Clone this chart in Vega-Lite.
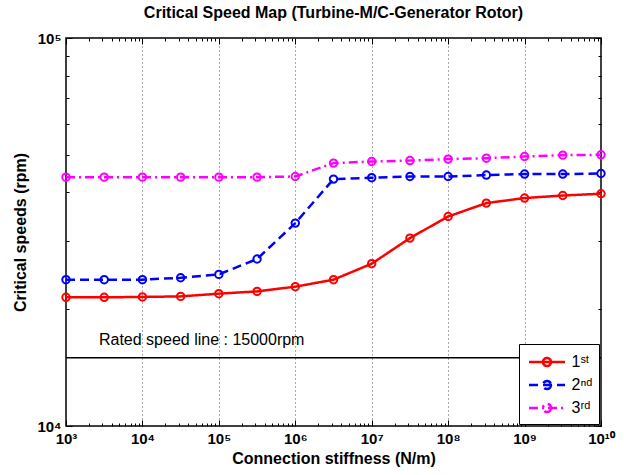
{
  "$schema": "https://vega.github.io/schema/vega-lite/v6.json",
  "width": 535,
  "height": 388,
  "autosize": "none",
  "padding": {"left": 66, "top": 38, "right": 23, "bottom": 49},
  "config": {
    "font": "Liberation Sans",
    "view": {"stroke": "black", "strokeWidth": 1.5},
    "axis": {"domain": false, "ticks": true, "tickColor": "black", "tickWidth": 1, "labelColor": "black", "titleColor": "black"}
  },
  "title": {"text": "Critical Speed Map (Turbine-M/C-Generator Rotor)", "fontSize": 16, "fontWeight": "bold", "font": "Liberation Sans", "offset": 10, "color": "black"},
  "datasets": {
    "speeds": [
      {"k": 1000, "rpm": 21460, "mode": "1st"},
      {"k": 3162, "rpm": 21460, "mode": "1st"},
      {"k": 10000, "rpm": 21510, "mode": "1st"},
      {"k": 31623, "rpm": 21580, "mode": "1st"},
      {"k": 100000, "rpm": 21930, "mode": "1st"},
      {"k": 316228, "rpm": 22230, "mode": "1st"},
      {"k": 1000000, "rpm": 22860, "mode": "1st"},
      {"k": 3162278, "rpm": 23830, "mode": "1st"},
      {"k": 10000000, "rpm": 26200, "mode": "1st"},
      {"k": 31622777, "rpm": 30500, "mode": "1st"},
      {"k": 100000000, "rpm": 34670, "mode": "1st"},
      {"k": 316227766, "rpm": 37540, "mode": "1st"},
      {"k": 1000000000, "rpm": 38680, "mode": "1st"},
      {"k": 3162277660, "rpm": 39270, "mode": "1st"},
      {"k": 10000000000, "rpm": 39680, "mode": "1st"},
      {"k": 1000, "rpm": 23830, "mode": "2nd"},
      {"k": 3162, "rpm": 23830, "mode": "2nd"},
      {"k": 10000, "rpm": 23830, "mode": "2nd"},
      {"k": 31623, "rpm": 24100, "mode": "2nd"},
      {"k": 100000, "rpm": 24590, "mode": "2nd"},
      {"k": 316228, "rpm": 26940, "mode": "2nd"},
      {"k": 1000000, "rpm": 33340, "mode": "2nd"},
      {"k": 3162278, "rpm": 43280, "mode": "2nd"},
      {"k": 10000000, "rpm": 43650, "mode": "2nd"},
      {"k": 31622777, "rpm": 43950, "mode": "2nd"},
      {"k": 100000000, "rpm": 43950, "mode": "2nd"},
      {"k": 316227766, "rpm": 44330, "mode": "2nd"},
      {"k": 1000000000, "rpm": 44600, "mode": "2nd"},
      {"k": 3162277660, "rpm": 44600, "mode": "2nd"},
      {"k": 10000000000, "rpm": 44750, "mode": "2nd"},
      {"k": 1000, "rpm": 43790, "mode": "3rd"},
      {"k": 3162, "rpm": 43790, "mode": "3rd"},
      {"k": 10000, "rpm": 43790, "mode": "3rd"},
      {"k": 31623, "rpm": 43790, "mode": "3rd"},
      {"k": 100000, "rpm": 43790, "mode": "3rd"},
      {"k": 316228, "rpm": 43790, "mode": "3rd"},
      {"k": 1000000, "rpm": 43950, "mode": "3rd"},
      {"k": 3162278, "rpm": 47590, "mode": "3rd"},
      {"k": 10000000, "rpm": 48040, "mode": "3rd"},
      {"k": 31622777, "rpm": 48320, "mode": "3rd"},
      {"k": 100000000, "rpm": 48740, "mode": "3rd"},
      {"k": 316227766, "rpm": 49010, "mode": "3rd"},
      {"k": 1000000000, "rpm": 49500, "mode": "3rd"},
      {"k": 3162277660, "rpm": 49900, "mode": "3rd"},
      {"k": 10000000000, "rpm": 50000, "mode": "3rd"}
    ],
    "rated": [{"rpm": 15000}],
    "note": [{"k": 2700, "rpm": 16700, "label": "Rated speed line : 15000rpm"}]
  },
  "resolve": {"axis": {"x": "independent", "y": "independent"}},
  "layer": [
    {
      "data": {"name": "speeds"},
      "mark": {"type": "line", "strokeWidth": 2.5, "clip": true},
      "encoding": {
        "x": {
          "field": "k", "type": "quantitative",
          "scale": {"type": "log", "domain": [1000, 10000000000], "nice": false},
          "axis": {
            "orient": "bottom", "offset": -6,
            "title": "Connection stiffness (N/m)",
            "titleFontSize": 16, "titleFontWeight": "bold", "titlePadding": 4,
            "values": [1000, 10000, 100000, 1000000, 10000000, 100000000, 1000000000, 10000000000],
            "labelExpr": "round(log(datum.value)/LN10) == 10 ? '10¹⁰' : '10' + ['⁰','¹','²','³','⁴','⁵','⁶','⁷','⁸','⁹'][round(log(datum.value)/LN10)]",
            "labelFontSize": 15, "labelFontWeight": "bold", "labelPadding": 5,
            "labelFlush": false, "labelOverlap": false,
            "tickSize": 6,
            "grid": true, "gridColor": "#555555", "gridDash": [1, 3], "gridWidth": 1,
            "gridOpacity": {"condition": {"test": "datum.value > 1000 && datum.value < 10000000000", "value": 1}, "value": 0}
          }
        },
        "y": {
          "field": "rpm", "type": "quantitative",
          "scale": {"type": "log", "domain": [10000, 100000], "nice": false},
          "axis": {
            "orient": "left", "offset": -6,
            "title": "Critical speeds (rpm)",
            "titleFontSize": 16, "titleFontWeight": "bold", "titlePadding": 8,
            "values": [10000, 100000],
            "labelExpr": "datum.value == 10000 ? '10⁴' : '10⁵'",
            "labelFontSize": 15, "labelFontWeight": "bold", "labelPadding": 5,
            "labelFlush": false, "labelOverlap": false,
            "tickSize": 6,
            "grid": false
          }
        },
        "color": {
          "field": "mode", "type": "nominal",
          "scale": {"domain": ["1st", "2nd", "3rd"], "range": ["#ff0000", "#0000ff", "#ff00ff"]},
          "legend": {
            "orient": "bottom-right", "title": null,
            "labelExpr": "datum.label == '1st' ? '1ˢᵗ' : (datum.label == '2nd' ? '2ⁿᵈ' : '3ʳᵈ')",
            "strokeColor": "black", "fillColor": "white", "padding": 6.5, "offset": 2,
            "symbolType": "M -1.8 0 L 1.8 0 M 0.4 0 A 0.4 0.4 0 1 1 -0.4 0 A 0.4 0.4 0 1 1 0.4 0",
            "symbolSize": 400, "symbolStrokeWidth": 2.5, "symbolOffset": 10,
            "labelOffset": 13, "labelFontSize": 16, "labelColor": "black",
            "labelLimit": 200, "rowPadding": 2
          }
        },
        "strokeDash": {
          "field": "mode", "type": "nominal",
          "scale": {"domain": ["1st", "2nd", "3rd"], "range": [[1, 0], [9, 5], [9, 4, 2, 4]]},
          "legend": null
        }
      }
    },
    {
      "data": {"name": "speeds"},
      "mark": {"type": "point", "shape": "circle", "filled": false, "size": 55, "strokeWidth": 2, "opacity": 1},
      "encoding": {
        "x": {"field": "k", "type": "quantitative", "axis": null},
        "y": {"field": "rpm", "type": "quantitative", "axis": null},
        "color": {"field": "mode", "type": "nominal"}
      }
    },
    {
      "data": {"name": "rated"},
      "mark": {"type": "rule", "color": "black", "strokeWidth": 1.5},
      "encoding": {
        "y": {"field": "rpm", "type": "quantitative", "axis": null}
      }
    },
    {
      "data": {"name": "note"},
      "mark": {"type": "text", "align": "left", "baseline": "middle", "fontSize": 16, "font": "Liberation Sans", "color": "black"},
      "encoding": {
        "x": {"field": "k", "type": "quantitative", "axis": null},
        "y": {"field": "rpm", "type": "quantitative", "axis": null},
        "text": {"field": "label"}
      }
    },
    {
      "data": {"name": "speeds"},
      "mark": {"type": "point", "opacity": 0},
      "encoding": {
        "x": {
          "field": "k", "type": "quantitative",
          "axis": {
            "orient": "bottom", "offset": -3, "title": null, "labels": false, "grid": false,
            "values": [2000,3000,4000,5000,6000,7000,8000,9000,20000,30000,40000,50000,60000,70000,80000,90000,200000,300000,400000,500000,600000,700000,800000,900000,2000000,3000000,4000000,5000000,6000000,7000000,8000000,9000000,20000000,30000000,40000000,50000000,60000000,70000000,80000000,90000000,200000000,300000000,400000000,500000000,600000000,700000000,800000000,900000000,2000000000,3000000000,4000000000,5000000000,6000000000,7000000000,8000000000,9000000000],
            "tickSize": 3
          }
        },
        "y": {
          "field": "rpm", "type": "quantitative",
          "axis": {
            "orient": "left", "offset": -3, "title": null, "labels": false, "grid": false,
            "values": [20000,30000,40000,50000,60000,70000,80000,90000],
            "tickSize": 3
          }
        }
      }
    },
    {
      "data": {"name": "speeds"},
      "mark": {"type": "point", "opacity": 0},
      "encoding": {
        "x": {
          "field": "k", "type": "quantitative",
          "axis": {
            "orient": "top", "offset": -6, "title": null, "labels": false, "grid": false,
            "values": [1000, 10000, 100000, 1000000, 10000000, 100000000, 1000000000, 10000000000],
            "tickSize": 6
          }
        },
        "y": {
          "field": "rpm", "type": "quantitative",
          "axis": {
            "orient": "right", "offset": -6, "title": null, "labels": false, "grid": false,
            "values": [10000, 100000],
            "tickSize": 6
          }
        }
      }
    },
    {
      "data": {"name": "speeds"},
      "mark": {"type": "point", "opacity": 0},
      "encoding": {
        "x": {
          "field": "k", "type": "quantitative",
          "axis": {
            "orient": "top", "offset": -3, "title": null, "labels": false, "grid": false,
            "values": [2000,3000,4000,5000,6000,7000,8000,9000,20000,30000,40000,50000,60000,70000,80000,90000,200000,300000,400000,500000,600000,700000,800000,900000,2000000,3000000,4000000,5000000,6000000,7000000,8000000,9000000,20000000,30000000,40000000,50000000,60000000,70000000,80000000,90000000,200000000,300000000,400000000,500000000,600000000,700000000,800000000,900000000,2000000000,3000000000,4000000000,5000000000,6000000000,7000000000,8000000000,9000000000],
            "tickSize": 3
          }
        },
        "y": {
          "field": "rpm", "type": "quantitative",
          "axis": {
            "orient": "right", "offset": -3, "title": null, "labels": false, "grid": false,
            "values": [20000,30000,40000,50000,60000,70000,80000,90000],
            "tickSize": 3
          }
        }
      }
    }
  ]
}
